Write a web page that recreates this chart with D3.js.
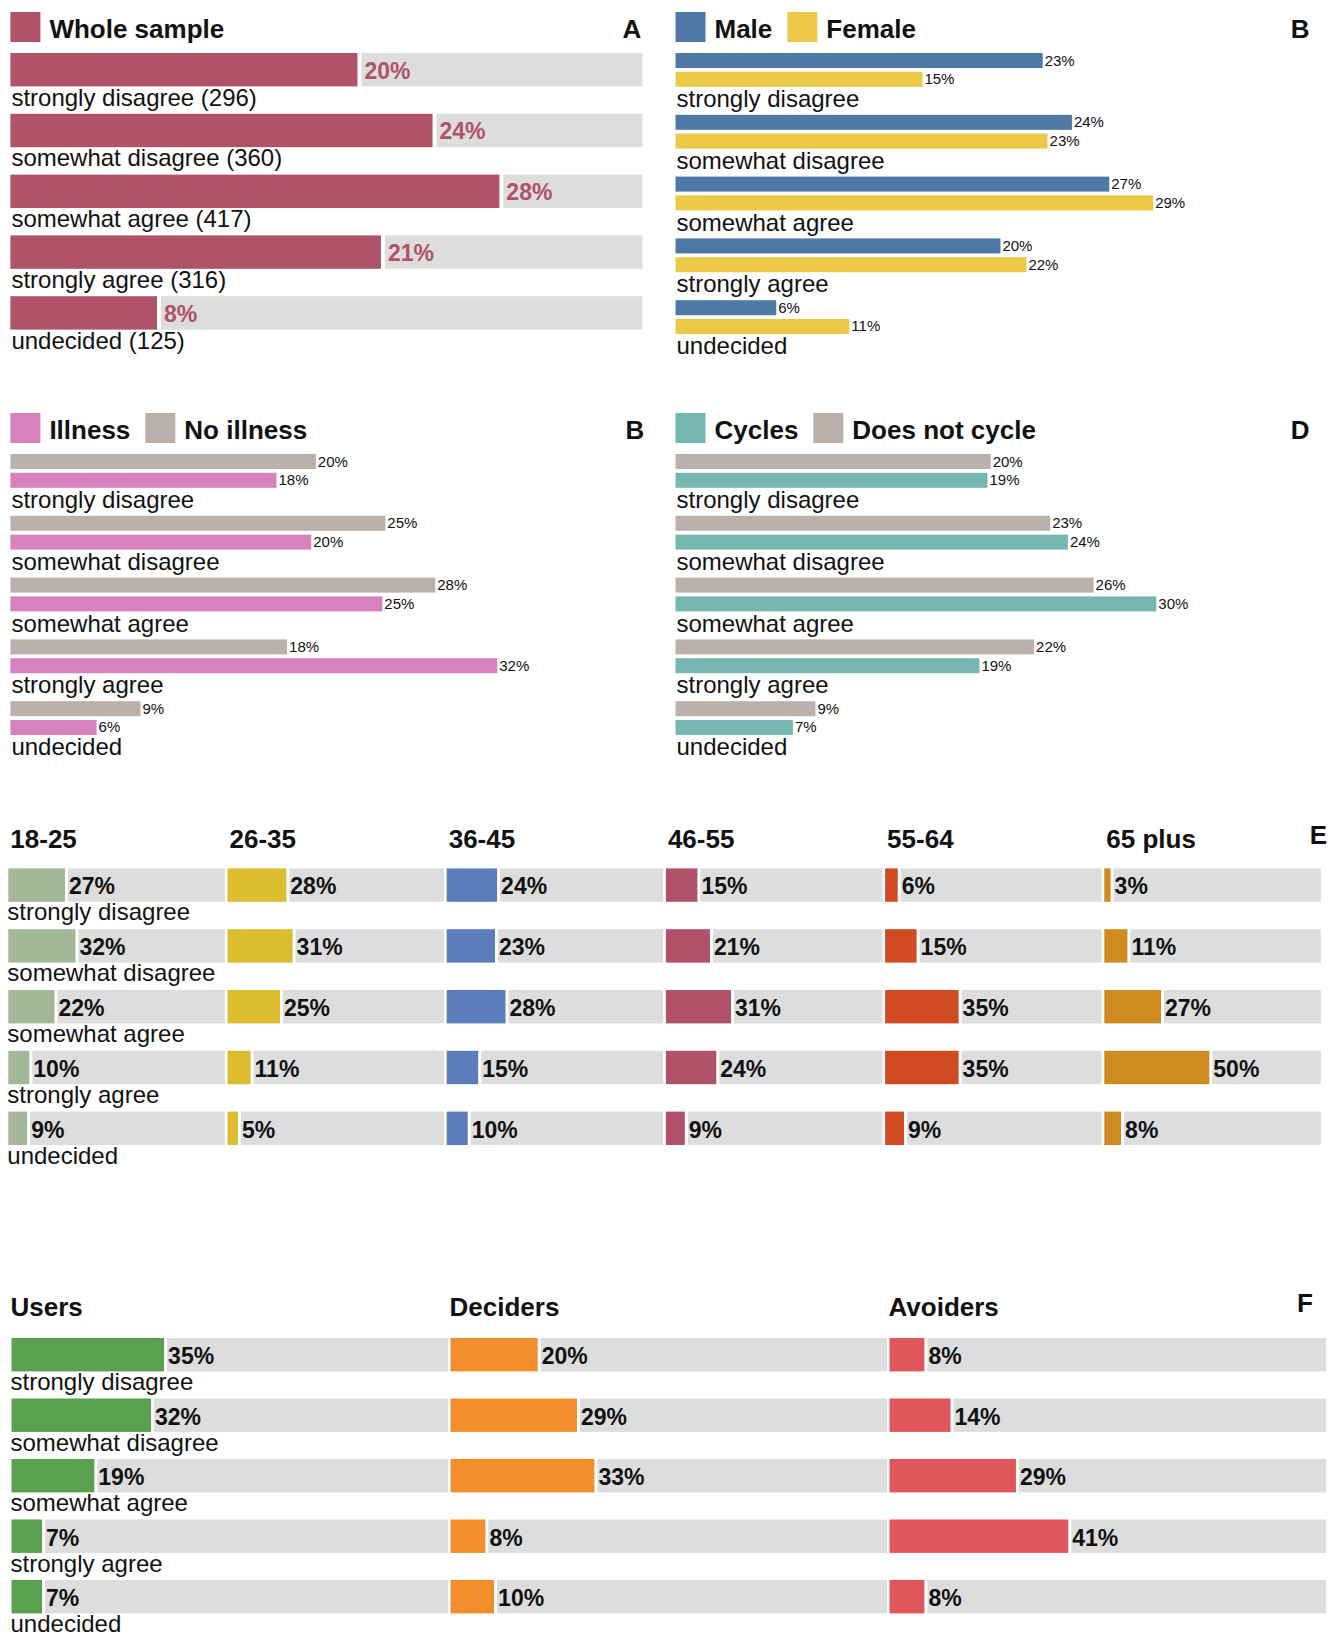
<!DOCTYPE html>
<html>
<head>
<meta charset="utf-8">
<script src="https://cdn.jsdelivr.net/npm/d3@7/dist/d3.min.js"></script>
<style>
body { margin: 0; background: #fff; }
text { font-family: "Liberation Sans", Arial, Helvetica, sans-serif; fill: #111; }
.title { font-weight: bold; font-size: 26px; }
.cat { font-size: 24px; }
.pct-big { font-weight: bold; font-size: 23px; }
.pct-small { font-size: 15px; }
</style>
</head>
<body>
<div id="chart"></div>
<script>
// answer categories (same for every panel)
var categories = ["strongly disagree", "somewhat disagree", "somewhat agree", "strongly agree", "undecided"];

// A - whole sample, counts per answer
var wholeCounts = [296, 360, 417, 316, 125];

// B - gender (% of group)
var maleValues = [22.6, 24.4, 26.7, 20.0, 6.2];
var femaleValues = [15.2, 22.9, 29.4, 21.6, 10.7];

// C - illness (% of group)
var illnessValues = [17.6, 19.9, 24.6, 32.2, 5.7];
var noIllnessValues = [20.2, 24.8, 28.1, 18.3, 8.6];

// D - cycling (% of group)
var cyclesValues = [19.4, 24.4, 29.9, 18.9, 7.3];
var noCycleValues = [19.6, 23.3, 26.0, 22.3, 8.7];

// E - age groups (% of group)
var ageGroups = ["18-25", "26-35", "36-45", "46-55", "55-64", "65 plus"];
var age18to25 = [27, 32, 22, 10, 9];
var age26to35 = [28, 31, 25, 11, 5];
var age36to45 = [24, 23, 28, 15, 10];
var age46to55 = [15, 21, 31, 24, 9];
var age55to64 = [6, 15, 35, 35, 9];
var age65plus = [3, 11, 27, 50, 8];

// F - user types (% of group)
var userGroups = ["Users", "Deciders", "Avoiders"];
var usersValues = [35, 32, 19, 7, 7];
var decidersValues = [20, 29, 33, 8, 10];
var avoidersValues = [8, 14, 29, 41, 8];

var bgGrey = "#dddddd";

function pct(v) { return Math.round(v) + "%"; }

var svg = d3.select("#chart").append("svg")
    .attr("width", 1338)
    .attr("height", 1637);

// legend row: coloured squares followed by bold labels
function drawLegend(g, items, x0) {
    var x = x0;
    items.forEach(function(item) {
        g.append("rect")
            .attr("x", x).attr("y", 12)
            .attr("width", 30).attr("height", 30)
            .attr("fill", item.color);
        var t = g.append("text")
            .attr("class", "title")
            .attr("x", x + 39)
            .attr("y", 38)
            .text(item.label);
        x = x + 39 + t.node().getComputedTextLength() + 15;
    });
}

function drawLetter(g, letter, x, y) {
    g.append("text")
        .attr("class", "title")
        .attr("x", x).attr("y", y)
        .attr("text-anchor", "end")
        .text(letter);
}

// Panel A : one bar per answer with grey remainder
function drawWhole(g, left, width, xMax) {
    var total = d3.sum(wholeCounts);
    var data = categories.map(function(c, i) {
        return {cat: c, count: wholeCounts[i], value: wholeCounts[i] / total * 100};
    });

    var y = d3.scaleBand().domain(categories).range([53, 53 + 5 * 60.8]);
    var x = d3.scaleLinear()
        .domain([0, xMax])
        .range([0, width]);

    drawLegend(g, [{label: "Whole sample", color: "#b0526a"}], left);
    drawLetter(g, "A", left + width - 1, 38);

    var rows = g.selectAll(".row-a")
        .data(data)
        .enter().append("g")
        .attr("class", "row-a")
        .attr("transform", d => `translate(${left},${y(d.cat)})`);

    rows.append("rect")
        .attr("x", d => x(d.value) + 4)
        .attr("width", d => width - x(d.value) - 4)
        .attr("height", 33.4)
        .attr("fill", bgGrey);

    rows.append("rect")
        .attr("width", d => x(d.value))
        .attr("height", 33.4)
        .attr("fill", "#b0526a");

    rows.append("text")
        .attr("class", "pct-big")
        .attr("x", d => x(d.value) + 7)
        .attr("y", 25.5)
        .style("fill", "#b0526a")
        .text(d => pct(d.value));

    rows.append("text")
        .attr("class", "cat")
        .attr("x", 1)
        .attr("y", 52.5)
        .text(d => d.cat + " (" + d.count + ")");
}

// Panels B, C, D : two thin bars per answer
function drawPaired(g, left, width, xMax, series, legendItems, letter) {
    var data = categories.map(function(c, i) {
        return {cat: c, values: series.map(s => ({color: s.color, value: s.values[i]}))};
    });

    var y = d3.scaleBand().domain(categories).range([53, 53 + 5 * 61.8]);
    var x = d3.scaleLinear()
        .domain([0, xMax])
        .range([0, width]);

    drawLegend(g, legendItems, left);
    drawLetter(g, letter, left + width + 2, 38);

    var rows = g.selectAll(".row-" + letter)
        .data(data)
        .enter().append("g")
        .attr("class", "row-" + letter)
        .attr("transform", d => `translate(${left},${y(d.cat)})`);

    rows.each(function(d) {
        var row = d3.select(this);
        d.values.forEach(function(s, i) {
            row.append("rect")
                .attr("y", i * 18.8)
                .attr("width", x(s.value))
                .attr("height", 15)
                .attr("fill", s.color);
            row.append("text")
                .attr("class", "pct-small")
                .attr("x", x(s.value) + 2)
                .attr("y", i * 18.8 + 12.5)
                .text(pct(s.value));
        });
    });

    rows.append("text")
        .attr("class", "cat")
        .attr("x", 1)
        .attr("y", 54)
        .text(d => d.cat);
}

// Panels E, F : small multiples, one column per group
function drawColumns(g, groups, valueLists, colors, o) {
    var y = d3.scaleBand().domain(categories).range([o.top, o.top + 5 * o.pitch]);
    var x = d3.scaleLinear().domain([0, 100]).range([0, o.barWidth]);

    groups.forEach(function(name, gi) {
        var left = o.left + gi * o.colStep;
        g.append("text")
            .attr("class", "title")
            .attr("x", left + o.headDx)
            .attr("y", o.headY)
            .text(name);

        var data = categories.map(function(c, i) { return {cat: c, value: valueLists[gi][i]}; });

        var rows = g.selectAll(".col" + o.id + gi)
            .data(data)
            .enter().append("g")
            .attr("class", "col" + o.id + gi)
            .attr("transform", d => `translate(${left},${y(d.cat)})`);

        rows.append("rect")
            .attr("x", d => x(d.value) + 3)
            .attr("width", d => o.colWidth - x(d.value) - 3)
            .attr("height", 33.4)
            .attr("fill", bgGrey);

        rows.append("rect")
            .attr("width", d => x(d.value))
            .attr("height", 33.4)
            .attr("fill", colors[gi]);

        rows.append("text")
            .attr("class", "pct-big")
            .attr("x", d => x(d.value) + 4)
            .attr("y", 26)
            .text(d => pct(d.value));
    });

    // answer labels only under the first column
    g.selectAll(".lab" + o.id)
        .data(categories)
        .enter().append("text")
        .attr("class", "cat")
        .attr("x", o.labelX)
        .attr("y", d => y(d) + 52)
        .text(d => d);

    drawLetter(g, o.letter, o.letterX, o.headY - 4);
}

var top1 = svg.append("g");
drawWhole(top1, 10.4, 632, 35.6);
drawPaired(top1, 675.5, 632, 38.9,
    [{color: "#4e79a7", values: maleValues}, {color: "#edc948", values: femaleValues}],
    [{label: "Male", color: "#4e79a7"}, {label: "Female", color: "#edc948"}], "B");

var top2 = svg.append("g").attr("transform", "translate(0,401)");
drawPaired(top2, 10.4, 632, 41.8,
    [{color: "#bab0ac", values: noIllnessValues}, {color: "#d782be", values: illnessValues}],
    [{label: "Illness", color: "#d782be"}, {label: "No illness", color: "#bab0ac"}], "B");
drawPaired(top2, 675.5, 632, 39.3,
    [{color: "#bab0ac", values: noCycleValues}, {color: "#76b7b2", values: cyclesValues}],
    [{label: "Cycles", color: "#76b7b2"}, {label: "Does not cycle", color: "#bab0ac"}], "D");

drawColumns(svg.append("g"), ageGroups,
    [age18to25, age26to35, age36to45, age46to55, age55to64, age65plus],
    ["#a3b899", "#dbbd2f", "#5b7dbb", "#b0526a", "#d04a22", "#cf8a20"],
    {id: "e", top: 868.4, pitch: 60.8, left: 8.3, colStep: 219.2, colWidth: 216.5, barWidth: 210,
     headY: 847.5, headDx: 2, labelX: 7.3, letter: "E", letterX: 1327});

drawColumns(svg.append("g"), userGroups,
    [usersValues, decidersValues, avoidersValues],
    ["#59a14f", "#f28e2b", "#e15759"],
    {id: "f", top: 1338, pitch: 60.5, left: 11.5, colStep: 439, colWidth: 436.5, barWidth: 436,
     headY: 1316, headDx: -1, labelX: 10.5, letter: "F", letterX: 1313});
</script>
</body>
</html>
